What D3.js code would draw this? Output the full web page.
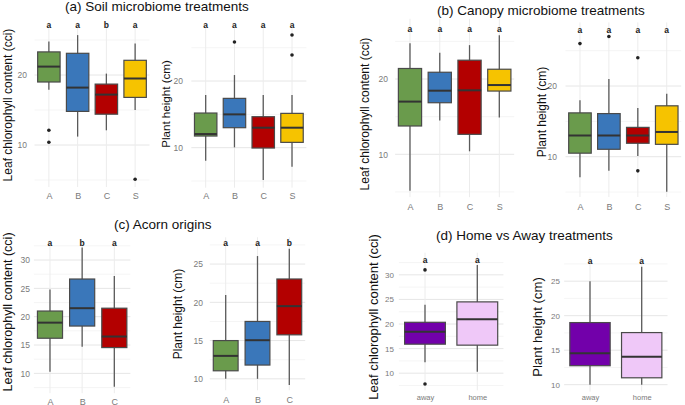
<!DOCTYPE html>
<html lang="en">
<head>
<meta charset="UTF-8">
<title>Oak microbiome boxplots</title>
<script src="https://d3js.org/d3.v7.min.js"></script>
<style>
  body { margin: 0; background: #fff; font-family: "Liberation Sans", Arial, sans-serif; }
  svg { display: block; }
  .tick text { fill: #7a7a7a; }
</style>
</head>
<body>
<svg id="chart" width="685" height="405"></svg>
<script>
// ---- data: [lower whisker, Q1, median, Q3, upper whisker] ----
const treatCats = ["A", "B", "C", "S"];
const treatColors = ["#6a9b4c", "#3a77ba", "#b30000", "#f6c300"];

const soilChl = [[17.9, 19.0, 21.2, 23.3, 24.8], [11.2, 14.8, 18.2, 23.1, 25.7], [12.1, 14.4, 17.2, 18.7, 20.2], [15.0, 16.8, 19.5, 22.1, 24.5]];
const soilChlOut = [[12.1, 10.4], [], [], [5.1]];
const soilChlLetters = ["a", "a", "b", "a"];

const soilHt = [[8.05, 11.75, 12.05, 15.2, 17.9], [10.05, 13.0, 15.0, 17.4, 20.9], [5.15, 9.95, 13.0, 14.65, 17.9], [7.15, 10.8, 13.0, 15.15, 17.9]];
const soilHtOut = [[], [25.85], [], [26.9, 23.9]];
const soilHtLetters = ["a", "a", "a", "a"];

const canopyChl = [[5.17, 13.76, 17.0, 21.4, 24.74], [14.5, 16.85, 18.45, 20.9, 23.5], [10.4, 12.65, 18.5, 22.5, 24.5], [14.9, 18.4, 19.2, 21.3, 25.8]];
const canopyChlOut = [[], [], [], []];
const canopyChlLetters = ["a", "a", "a", "a"];

const canopyHt = [[7.1, 10.5, 13.0, 16.2, 18.0], [8.0, 11.05, 13.0, 16.1, 21.0], [10.1, 11.9, 13.0, 14.15, 16.9], [5.05, 11.75, 13.5, 17.2, 18.9]];
const canopyHtOut = [[26.0], [27.0], [24.0, 8.0], []];
const canopyHtLetters = ["a", "a", "a", "a"];

const acornCats = ["A", "B", "C"];
const acornColors = ["#6a9b4c", "#3a77ba", "#b30000"];
const acornChl = [[10.3, 16.2, 18.95, 21.0, 24.8], [14.7, 18.35, 21.5, 26.65, 32.2], [7.65, 14.55, 16.5, 21.5, 27.2]];
const acornChlLetters = ["a", "b", "a"];
const acornHt = [[10.0, 11.05, 13.0, 15.0, 20.95], [10.0, 11.8, 15.05, 17.5, 26.05], [9.2, 15.75, 19.5, 23.05, 27.0]];
const acornHtLetters = ["a", "a", "b"];

const homeCats = ["away", "home"];
const homeColors = ["#7200aa", "#efc8f8"];
const homeChl = [[12.2, 15.9, 18.45, 20.35, 23.9], [10.3, 15.7, 20.95, 24.5, 32.0]];
const homeChlOut = [[31.0, 7.8], []];
const homeChlLetters = ["a", "a"];
const homeHt = [[10.0, 12.75, 14.55, 19.0, 25.0], [10.0, 11.0, 14.05, 17.55, 27.1]];
const homeHtLetters = ["a", "a"];

const ticks10 = [10, 20];
const minor10 = [5, 15, 25];
const ticks5 = [10, 15, 20, 25, 30];
const minor5 = [7.5, 12.5, 17.5, 22.5, 27.5, 32.5];

const chlLabel = "Leaf chlorophyll content (cci)";
const htLabel = "Plant height (cm)";

const svg = d3.select("#chart");

function drawPanel(p) {
  const g = svg.append("g");
  const y = d3.scaleLinear().domain(p.domain).range([p.yBot, p.yTop]);
  const x = d3.scalePoint().domain(p.cats).range([p.x0, p.x1]).padding(0.5);
  const bw = x.step() * 0.78;

  // grid
  g.selectAll(".minor").data(p.minor.filter(v => v > p.domain[0] && v < p.domain[1]))
    .enter().append("line")
    .attr("x1", p.x0).attr("x2", p.x1)
    .attr("y1", d => y(d)).attr("y2", d => y(d))
    .attr("stroke", "#f3f3f3").attr("stroke-width", 0.8);
  g.selectAll(".major").data(p.ticks)
    .enter().append("line")
    .attr("x1", p.x0).attr("x2", p.x1)
    .attr("y1", d => y(d)).attr("y2", d => y(d))
    .attr("stroke", "#e6e6e6").attr("stroke-width", 1);
  g.selectAll(".vgrid").data(p.cats)
    .enter().append("line")
    .attr("x1", d => x(d)).attr("x2", d => x(d))
    .attr("y1", p.yTop).attr("y2", p.yBot)
    .attr("stroke", "#ececec").attr("stroke-width", 1);

  // y axis
  const ya = g.append("g")
    .attr("transform", `translate(${p.tickX},0)`)
    .call(d3.axisLeft(y).tickValues(p.ticks).tickSize(0).tickPadding(0));
  ya.select(".domain").remove();
  ya.selectAll("text").attr("font-size", p.tickSize || 8.5).attr("font-family", "Liberation Sans, Arial");

  // x labels
  const xa = g.append("g")
    .attr("transform", `translate(0,${p.xLabY})`)
    .call(d3.axisBottom(x).tickSize(0).tickPadding(0));
  xa.select(".domain").remove();
  xa.selectAll("text").attr("dy", 0).attr("font-size", p.xSize || 9).attr("font-family", "Liberation Sans, Arial");

  // boxes
  const box = g.selectAll(".box").data(p.stats).enter().append("g");
  box.append("line")
    .attr("x1", (d, i) => x(p.cats[i])).attr("x2", (d, i) => x(p.cats[i]))
    .attr("y1", d => y(d[0])).attr("y2", d => y(d[4]))
    .attr("stroke", "#5a5a5a").attr("stroke-width", 1.3);
  box.append("rect")
    .attr("x", (d, i) => x(p.cats[i]) - bw / 2).attr("width", bw)
    .attr("y", d => y(d[3])).attr("height", d => y(d[1]) - y(d[3]))
    .attr("fill", (d, i) => p.colors[i])
    .attr("stroke", "#4a4a4a").attr("stroke-width", 1.2);
  box.append("line")
    .attr("x1", (d, i) => x(p.cats[i]) - bw / 2).attr("x2", (d, i) => x(p.cats[i]) + bw / 2)
    .attr("y1", d => y(d[2])).attr("y2", d => y(d[2]))
    .attr("stroke", "#333").attr("stroke-width", 2);

  // outliers
  (p.outliers || []).forEach((vals, i) => {
    g.selectAll(null).data(vals).enter().append("circle")
      .attr("cx", x(p.cats[i])).attr("cy", d => y(d)).attr("r", 1.8)
      .attr("fill", "#222");
  });

  // significance letters
  g.selectAll(".letter").data(p.letters).enter().append("text")
    .attr("x", (d, i) => x(p.cats[i])).attr("y", p.letterY)
    .attr("text-anchor", "middle").attr("font-size", 8.5).attr("font-weight", "bold")
    .attr("fill", "#222").text(d => d);

  // y title
  g.append("text")
    .attr("transform", `translate(${p.titleX},${p.titleY}) rotate(-90)`)
    .attr("text-anchor", "middle").attr("dominant-baseline", "central")
    .attr("font-size", p.titleSize).attr("fill", "#111")
    .text(p.label);
}

drawPanel({ cats: treatCats, colors: treatColors, stats: soilChl, outliers: soilChlOut, letters: soilChlLetters,
  x0: 34.5, x1: 149.5, yTop: 22.5, yBot: 187, domain: [4, 27.5], ticks: ticks10, minor: minor10,
  letterY: 28, xLabY: 198.5, tickX: 27, titleX: 8, titleY: 105, titleSize: 12, label: chlLabel });
drawPanel({ cats: treatCats, colors: treatColors, stats: soilHt, outliers: soilHtOut, letters: soilHtLetters,
  x0: 191.3, x1: 306.4, yTop: 27.7, yBot: 187.7, domain: [4, 28], ticks: ticks10, minor: minor10,
  letterY: 28, xLabY: 199, tickX: 183, titleX: 165, titleY: 104, titleSize: 11.6, label: htLabel });
drawPanel({ cats: treatCats, colors: treatColors, stats: canopyChl, outliers: canopyChlOut, letters: canopyChlLetters,
  x0: 395.1, x1: 514.2, yTop: 18.8, yBot: 197.2, domain: [4.3, 28], ticks: ticks10, minor: minor10,
  letterY: 32, xLabY: 210, tickX: 388, titleX: 365, titleY: 114, titleSize: 12, label: chlLabel });
drawPanel({ cats: treatCats, colors: treatColors, stats: canopyHt, outliers: canopyHtOut, letters: canopyHtLetters,
  x0: 565.5, x1: 681.2, yTop: 22.4, yBot: 197, domain: [4.3, 29], ticks: ticks10, minor: minor10,
  letterY: 33, xLabY: 210, tickX: 557, titleX: 541.7, titleY: 112, titleSize: 12, label: htLabel });
drawPanel({ cats: acornCats, colors: acornColors, stats: acornChl, outliers: [], letters: acornChlLetters,
  x0: 33.9, x1: 130.4, yTop: 240.2, yBot: 393.2, domain: [6.5, 33.5], ticks: ticks5, minor: minor5,
  letterY: 245.5, xLabY: 404.5, tickX: 30, titleX: 8, titleY: 312, titleSize: 12.5, label: chlLabel });
drawPanel({ cats: acornCats, colors: acornColors, stats: acornHt, outliers: [], letters: acornHtLetters,
  x0: 209.8, x1: 305.2, yTop: 237.3, yBot: 390.3, domain: [8.5, 28.5], ticks: ticks5.slice(0, 4), minor: minor5,
  letterY: 245.5, xLabY: 403, tickX: 203, titleX: 178, titleY: 314, titleSize: 12, label: htLabel });
drawPanel({ cats: homeCats, colors: homeColors, stats: homeChl, outliers: homeChlOut, letters: homeChlLetters,
  x0: 398.85, x1: 503.45, yTop: 252.7, yBot: 390.4, domain: [6.5, 34.5], ticks: ticks5, minor: minor5,
  letterY: 263, xLabY: 400, tickX: 394, titleX: 373, titleY: 317, titleSize: 13, label: chlLabel, xSize: 7.5, tickSize: 8 });
drawPanel({ cats: homeCats, colors: homeColors, stats: homeHt, outliers: [], letters: homeHtLetters,
  x0: 564.15, x1: 667.55, yTop: 257, yBot: 391.6, domain: [9, 28.5], ticks: ticks5.slice(0, 4), minor: minor5,
  letterY: 264, xLabY: 400, tickX: 560, titleX: 537, titleY: 327, titleSize: 13.2, label: htLabel, xSize: 7.5, tickSize: 8 });

// panel titles
const titles = [
  { t: "(a) Soil microbiome treatments", x: 65, y: 11 },
  { t: "(b) Canopy microbiome treatments", x: 437, y: 15 },
  { t: "(c) Acorn origins", x: 114, y: 229 },
  { t: "(d) Home vs Away treatments", x: 436, y: 240 }
];
svg.selectAll(".ptitle").data(titles).enter().append("text")
  .attr("x", d => d.x).attr("y", d => d.y)
  .attr("font-size", 13.5).attr("fill", "#111")
  .text(d => d.t);
</script>
</body>
</html>
